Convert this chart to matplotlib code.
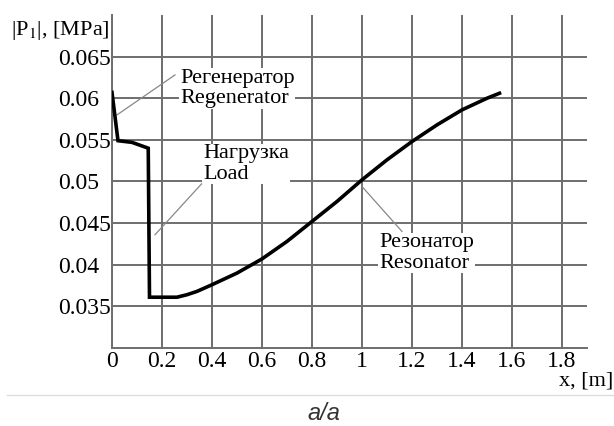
import matplotlib.pyplot as plt
from matplotlib.lines import Line2D

# ── data ──
x_m = [0.0, 0.024, 0.08, 0.145, 0.15, 0.2, 0.26, 0.3, 0.34, 0.4, 0.5, 0.6, 0.7,
       0.8, 0.9, 1.0, 1.1, 1.2, 1.3, 1.4, 1.5, 1.55]
p1_mpa = [0.0607, 0.0549, 0.0547, 0.0540, 0.0361, 0.0361, 0.0361, 0.0364,
          0.0368, 0.0376, 0.0390, 0.0407, 0.0428, 0.0452, 0.0476, 0.0502,
          0.0526, 0.0548, 0.0568, 0.0586, 0.0600, 0.0606]

x_ticks = [0, 0.2, 0.4, 0.6, 0.8, 1, 1.2, 1.4, 1.6, 1.8]
x_tick_labels = ["0", "0.2", "0.4", "0.6", "0.8", "1", "1.2", "1.4", "1.6", "1.8"]
y_ticks = [0.035, 0.04, 0.045, 0.05, 0.055, 0.06, 0.065]
y_tick_labels = ["0.035", "0.04", "0.045", "0.05", "0.055", "0.06", "0.065"]

# (label, text anchor, leader line start, leader line end)
notes = [
    ("Регенератор\nRegenerator", (0.272, 0.0612), (0.02, 0.0580), (0.252, 0.0628)),
    ("Нагрузка\nLoad", (0.364, 0.0521), (0.172, 0.0436), (0.364, 0.0499)),
    ("Резонатор\nResonator", (1.068, 0.0414), (1.0, 0.0494), (1.16, 0.0440)),
]

plt.rcParams["font.family"] = ["Liberation Serif", "DejaVu Serif"]
plt.rcParams["mathtext.fontset"] = "stix"

fig = plt.figure(figsize=(6.14, 4.26), dpi=100)
ax = fig.add_axes([0.1824, 0.1831, 0.7736, 0.7817])

grid_c = "#6e6e6e"
for xv in x_ticks:
    ax.axvline(xv, color=grid_c, lw=1.4, zorder=1)
for yv in y_ticks:
    ax.axhline(yv, color=grid_c, lw=1.4, zorder=1)

ax.plot(x_m, p1_mpa, color="black", lw=2.6, zorder=4, solid_joinstyle="miter")

for label, (tx, ty), (x0, y0), (x1, y1) in notes:
    ax.add_line(Line2D([x0, x1], [y0, y1], color="#888888", lw=0.9, zorder=2))
    ax.text(tx, ty, label, fontsize=16, ha="left", va="center", linespacing=1.1,
            zorder=3, bbox=dict(facecolor="white", edgecolor="none", pad=0.5))

ax.set_xlim(0, 1.9)
ax.set_ylim(0.030, 0.070)
ax.set_xticks(x_ticks)
ax.set_xticklabels(x_tick_labels, fontsize=17)
ax.set_yticks(y_ticks)
ax.set_yticklabels(y_tick_labels, fontsize=17)
ax.tick_params(axis="x", length=0, pad=2)
ax.tick_params(axis="y", length=0, pad=39)
for lab in ax.get_yticklabels():
    lab.set_ha("left")

for side in ("top", "right"):
    ax.spines[side].set_visible(False)
for side in ("left", "bottom"):
    ax.spines[side].set_color(grid_c)
    ax.spines[side].set_linewidth(1.4)

fig.text(110 / 614, 1 - 30 / 426, r"|P$_{\rm 1}$|, [MPa]", fontsize=16,
         ha="right", va="center")
fig.text(613 / 614, 1 - 381 / 426, "x, [m]", fontsize=16, ha="right", va="center")

fig.add_artist(Line2D([7 / 614, 1.0], [1 - 395 / 426] * 2, color="#dddddd", lw=1.0))
fig.text(324 / 614, 1 - 414 / 426, "a/a", fontsize=17, style="italic",
         family="Liberation Sans", color="#333333", ha="center", va="center")

plt.savefig("out.png", dpi=100)
